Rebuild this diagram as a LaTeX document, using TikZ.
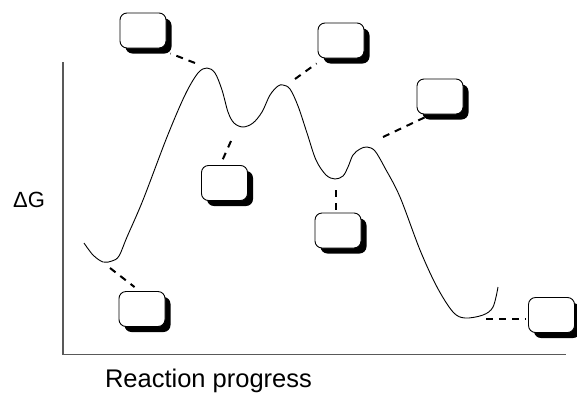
\documentclass[tikz,border=0pt]{standalone}
\usepackage{fontspec}
\setmainfont{Liberation Sans}
\usetikzlibrary{shadows,calc}
\tikzset{
  statebox/.style={draw=black, line width=0.9pt, fill=white, rounded corners=7pt,
    minimum width=46pt, minimum height=35pt, inner sep=0pt,
    drop shadow={shadow xshift=5.5pt, shadow yshift=-5.5pt, fill=black, opacity=1}},
  conn/.style={line width=2pt, dash pattern=on 7pt off 6pt},
  axisline/.style={line width=1.6pt, draw=black!65},
  curveline/.style={line width=0.9pt, black},
}
\begin{document}
\begin{tikzpicture}[x=1pt, y=-1pt]
\useasboundingbox (0,0) rectangle (577,394);
% axes
\draw[axisline] (62.7,62) -- (62.7,354.5) -- (566,354.5);
\node[anchor=base, font=\fontsize{22}{24}\selectfont] (dg) at (29,207.3) {ΔG};
\node[anchor=base, font=\fontsize{25.5}{28}\selectfont] (rp) at (208.5,387) {Reaction progress};
% energy curve
\draw[curveline] plot[smooth, tension=0.55] coordinates {
 (84,243) (93,255) (103,262) (112,261) (119,256) (127,237) (143,200) (167,137)
 (185,95) (198,73) (207,68) (215,73) (222,90) (228,112) (234,123) (243,127)
 (253,123) (262,112) (270,95) (278,86) (283,85) (290,89) (298,106) (307,133)
 (316,160) (326,175) (335,179) (343,176) (348,167) (353,155) (360,149) (367,147)
 (375,151) (385,168) (400,197) (420,250) (437,287) (453,312) (465,318) (483,315)
 (493,307) (498,287)};
% boxes
\node[statebox] (b1) at (143,30.5) {};
\node[statebox] (b2) at (341,40.5) {};
\node[statebox] (b3) at (440,96.5) {};
\node[statebox] (b4) at (338,230.5) {};
\node[statebox] (b5) at (142,309) {};
\node[statebox] (b6) at (224.5,183) {};
\node[statebox] (b7) at (551.5,315) {};
% curve-side ends of connectors
\coordinate (c1) at (195,63);
\coordinate (c2) at (295,79);
\coordinate (c3) at (383,137);
\coordinate (c4) at (336,190);
\coordinate (c5) at (110,268);
\coordinate (c6) at (231,141);
\coordinate (c7) at (486,319);
% connectors
\draw[conn] (c1) -- ($(b1.south east)+(4,5)$);
\draw[conn] (c2) -- ($(b2.south west)+(-1,5)$);
\draw[conn] (c3) -- ($(b3.south west)+(8,3)$);
\draw[conn] (c4) -- ($(b4.north)+(-2,-3)$);
\draw[conn] (c5) -- ($(b5.north west)+(16,-4)$);
\draw[conn] (c6) -- ($(b6.north)+(-2.5,-4)$);
\draw[conn] (c7) -- ($(b7.west)+(-3,4)$);
\end{tikzpicture}
\end{document}
